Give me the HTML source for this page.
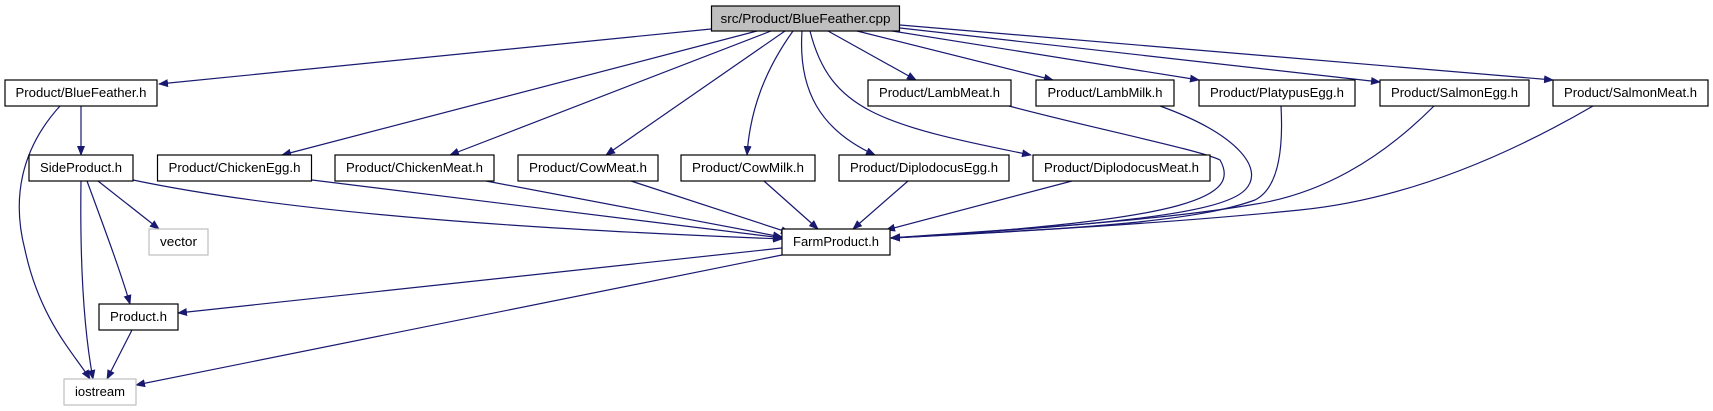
<!DOCTYPE html>
<html><head><meta charset="utf-8"><style>
html,body{margin:0;padding:0;background:#fff;}
svg{display:block;}
text{font-family:"Liberation Sans",sans-serif;font-size:13px;fill:#000;}
</style></head><body>
<svg width="1713" height="411" viewBox="0 0 1713 411" xmlns="http://www.w3.org/2000/svg">
<defs>
<marker id="a" markerWidth="10" markerHeight="8" refX="9" refY="4" orient="auto" markerUnits="userSpaceOnUse">
<path d="M0,0 L10,4 L0,8 z" fill="#191970"/>
</marker>
</defs>
<g fill="none" stroke="#191970" stroke-width="1.2" marker-end="url(#a)">
<path d="M711,29 L159,84"/>
<path d="M757,31 L282,155"/>
<path d="M771,31 L450,155"/>
<path d="M785,31 L606,155"/>
<path d="M793,31 C765,70 750,110 747,155"/>
<path d="M802,31 C798,90 820,130 875,155"/>
<path d="M810,31 C830,110 880,125 1031,155"/>
<path d="M828,31 L916,80"/>
<path d="M853,30 L1053,80"/>
<path d="M886,30 L1199,80"/>
<path d="M900,28 L1380,82"/>
<path d="M900,25 L1553,80"/>
<path d="M81,106 L81,155"/>
<path d="M60,106 C20,150 12,200 25,250 C40,320 75,355 90,379"/>
<path d="M81,181 C80,250 82,320 93,379"/>
<path d="M87,181 C105,230 120,270 130,304"/>
<path d="M98,181 L159,229"/>
<path d="M133,180 C300,215 550,230 782,239"/>
<path d="M312,180 L782,238"/>
<path d="M486,181 L782,237"/>
<path d="M631,181 L790,233"/>
<path d="M764,181 L818,229"/>
<path d="M908,181 L853,229"/>
<path d="M1072,181 L886,230"/>
<path d="M1009,106 C1100,130 1200,150 1220,160 C1240,195 1200,220 891,238"/>
<path d="M1160,106 C1240,135 1265,170 1245,190 C1220,215 1100,225 891,238"/>
<path d="M1281,106 C1284,160 1275,190 1255,200 C1200,220 1100,228 891,238"/>
<path d="M1434,106 C1380,160 1320,195 1250,205 C1150,222 1000,230 891,238"/>
<path d="M1593,106 C1500,160 1400,200 1300,210 C1150,225 1000,232 891,238"/>
<path d="M782,248 L178,313"/>
<path d="M782,255 L136,385"/>
<path d="M132,330 L107,379"/>
</g>
<g stroke-width="1.2">
<rect x="711.5" y="6" width="188" height="25" fill="#bfbfbf" stroke="#000"/>
<rect x="5" y="80" width="152" height="26" fill="#fff" stroke="#000"/>
<rect x="868" y="80" width="143" height="26" fill="#fff" stroke="#000"/>
<rect x="1036" y="80" width="138" height="26" fill="#fff" stroke="#000"/>
<rect x="1199" y="80" width="156" height="26" fill="#fff" stroke="#000"/>
<rect x="1380" y="80" width="149" height="26" fill="#fff" stroke="#000"/>
<rect x="1553" y="80" width="155" height="26" fill="#fff" stroke="#000"/>
<rect x="29" y="155" width="104" height="26" fill="#fff" stroke="#000"/>
<rect x="157.5" y="155" width="154" height="26" fill="#fff" stroke="#000"/>
<rect x="335" y="155" width="159" height="26" fill="#fff" stroke="#000"/>
<rect x="518" y="155" width="140" height="26" fill="#fff" stroke="#000"/>
<rect x="681" y="155" width="134" height="26" fill="#fff" stroke="#000"/>
<rect x="839" y="155" width="170" height="26" fill="#fff" stroke="#000"/>
<rect x="1033" y="155" width="177" height="26" fill="#fff" stroke="#000"/>
<rect x="149" y="229" width="59" height="26" fill="#fff" stroke="#bfbfbf"/>
<rect x="782" y="229" width="108" height="26" fill="#fff" stroke="#000"/>
<rect x="99" y="304" width="79" height="26" fill="#fff" stroke="#000"/>
<rect x="64" y="379" width="72" height="26" fill="#fff" stroke="#bfbfbf"/>
</g>
<g text-anchor="middle" lengthAdjust="spacingAndGlyphs">
<text x="805.5" y="23" textLength="170" lengthAdjust="spacingAndGlyphs">src/Product/BlueFeather.cpp</text>
<text x="81" y="97" textLength="131" lengthAdjust="spacingAndGlyphs">Product/BlueFeather.h</text>
<text x="939.5" y="97" textLength="121" lengthAdjust="spacingAndGlyphs">Product/LambMeat.h</text>
<text x="1105" y="97" textLength="115" lengthAdjust="spacingAndGlyphs">Product/LambMilk.h</text>
<text x="1277" y="97" textLength="134" lengthAdjust="spacingAndGlyphs">Product/PlatypusEgg.h</text>
<text x="1454.5" y="97" textLength="127" lengthAdjust="spacingAndGlyphs">Product/SalmonEgg.h</text>
<text x="1630.5" y="97" textLength="133" lengthAdjust="spacingAndGlyphs">Product/SalmonMeat.h</text>
<text x="81" y="172" textLength="82" lengthAdjust="spacingAndGlyphs">SideProduct.h</text>
<text x="234.5" y="172" textLength="132" lengthAdjust="spacingAndGlyphs">Product/ChickenEgg.h</text>
<text x="414.5" y="172" textLength="137" lengthAdjust="spacingAndGlyphs">Product/ChickenMeat.h</text>
<text x="588" y="172" textLength="118" lengthAdjust="spacingAndGlyphs">Product/CowMeat.h</text>
<text x="748" y="172" textLength="112" lengthAdjust="spacingAndGlyphs">Product/CowMilk.h</text>
<text x="924" y="172" textLength="148" lengthAdjust="spacingAndGlyphs">Product/DiplodocusEgg.h</text>
<text x="1121.5" y="172" textLength="155" lengthAdjust="spacingAndGlyphs">Product/DiplodocusMeat.h</text>
<text x="178.5" y="246" textLength="37" lengthAdjust="spacingAndGlyphs">vector</text>
<text x="836" y="246" textLength="86" lengthAdjust="spacingAndGlyphs">FarmProduct.h</text>
<text x="138.5" y="321" textLength="57" lengthAdjust="spacingAndGlyphs">Product.h</text>
<text x="100" y="396" textLength="50" lengthAdjust="spacingAndGlyphs">iostream</text>
</g>
</svg>
</body></html>
